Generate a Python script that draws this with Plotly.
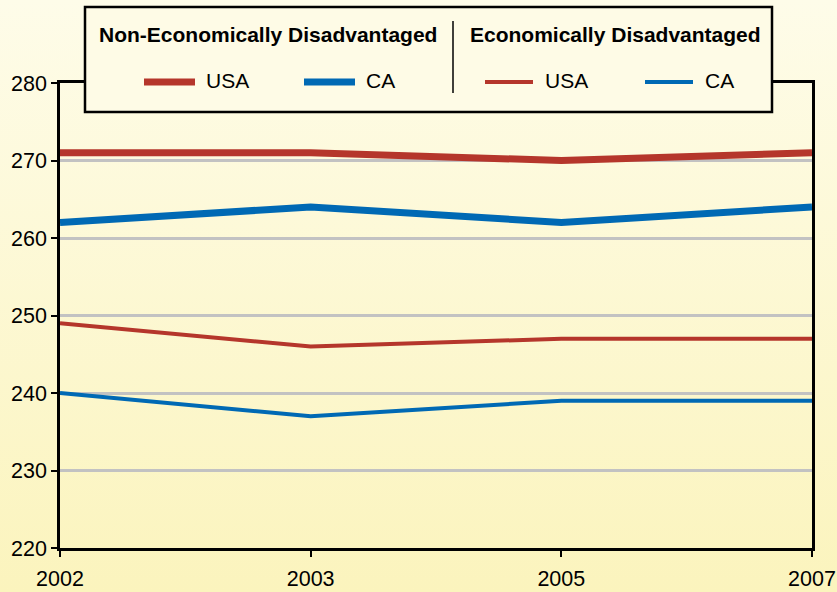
import base64
import plotly.graph_objects as go

# Reading scores by year
years = ["2002", "2003", "2005", "2007"]
non_econ_usa = [271, 271, 270, 271]
non_econ_ca = [262, 264, 262, 264]
econ_usa = [249, 246, 247, 247]
econ_ca = [240, 237, 239, 239]
y_ticks = [220, 230, 240, 250, 260, 270, 280]

RED = "#B5362B"
BLUE = "#0069B4"
FONT = "Liberation Sans, Arial, sans-serif"

W, H = 837, 592
L, R, T, B = 60, 25, 83, 44
PW, PH = W - L - R, H - T - B


def px_x(x):
    return (x - L) / PW


def px_y(y):
    return (H - B - y) / PH


fig = go.Figure()
series = [
    (non_econ_usa, RED, 7, "Non-Econ USA"),
    (non_econ_ca, BLUE, 7, "Non-Econ CA"),
    (econ_usa, RED, 4, "Econ USA"),
    (econ_ca, BLUE, 4, "Econ CA"),
]
for vals, color, width, name in series:
    fig.add_trace(go.Scatter(x=years, y=vals, mode="lines", name=name,
                             line=dict(color=color, width=width),
                             showlegend=False))

# soft yellow vertical gradient behind everything
svg = (
    f'<svg xmlns="http://www.w3.org/2000/svg" width="{W}" height="{H}">'
    '<defs><linearGradient id="g" x1="0" y1="0" x2="0" y2="1">'
    '<stop offset="0" stop-color="#FEFCE9"/>'
    '<stop offset="1" stop-color="#FBF4BD"/>'
    '</linearGradient></defs>'
    f'<rect width="{W}" height="{H}" fill="url(#g)"/></svg>'
)
uri = "data:image/svg+xml;base64," + base64.b64encode(svg.encode()).decode()
fig.add_layout_image(dict(source=uri, xref="paper", yref="paper",
                          x=px_x(0), y=px_y(0), sizex=W / PW, sizey=H / PH,
                          xanchor="left", yanchor="top", sizing="stretch",
                          layer="below"))

shapes = []
# legend frame
shapes.append(dict(type="rect", xref="paper", yref="paper",
                   x0=px_x(85), x1=px_x(772), y0=px_y(112), y1=px_y(7),
                   line=dict(color="black", width=2.5), fillcolor="#FEFBE6"))
shapes.append(dict(type="line", xref="paper", yref="paper",
                   x0=px_x(453), x1=px_x(453), y0=px_y(93), y1=px_y(21),
                   line=dict(color="black", width=1.5)))
annotations = []
legend_items = [
    (144, 195, RED, 7, "USA", 204),
    (304, 355, BLUE, 7, "CA", 364),
    (485, 533, RED, 4, "USA", 543),
    (645, 693, BLUE, 4, "CA", 703),
]
for x0, x1, color, width, label, tx in legend_items:
    shapes.append(dict(type="line", xref="paper", yref="paper",
                       x0=px_x(x0), x1=px_x(x1), y0=px_y(82), y1=px_y(82),
                       line=dict(color=color, width=width)))
    annotations.append(dict(text=label, xref="paper", yref="paper",
                            x=px_x(tx), y=px_y(81), xanchor="left",
                            yanchor="middle", showarrow=False,
                            font=dict(family=FONT, size=21, color="black")))
for title, cx in [("Non-Economically Disadvantaged", 268),
                  ("Economically Disadvantaged", 615)]:
    annotations.append(dict(text=f"<b>{title}</b>", xref="paper", yref="paper",
                            x=px_x(cx), y=px_y(35), xanchor="center",
                            yanchor="middle", showarrow=False,
                            font=dict(family=FONT, size=21, color="black")))

fig.update_layout(
    width=W, height=H,
    margin=dict(l=L, r=R, t=T, b=B, pad=0),
    paper_bgcolor="#FDF9D6",
    plot_bgcolor="rgba(0,0,0,0)",
    font=dict(family=FONT, size=21, color="black"),
    shapes=shapes,
    annotations=annotations,
    xaxis=dict(type="category", range=[0, 3], showgrid=False, automargin=False,
               showline=True, linecolor="black", linewidth=2.5, mirror=True,
               ticks="outside", ticklen=6, tickwidth=2, tickcolor="black",
               ticklabelstandoff=3,
               tickfont=dict(size=21.5), zeroline=False),
    yaxis=dict(range=[220, 280], tickvals=y_ticks, showgrid=True,
               automargin=False,
               gridcolor="#C2C2C2", gridwidth=2.5,
               showline=True, linecolor="black", linewidth=2.5, mirror=True,
               ticks="outside", ticklen=6, tickwidth=2, tickcolor="black",
               tickfont=dict(size=21.5), zeroline=False),
)

fig.write_html("out.html")
